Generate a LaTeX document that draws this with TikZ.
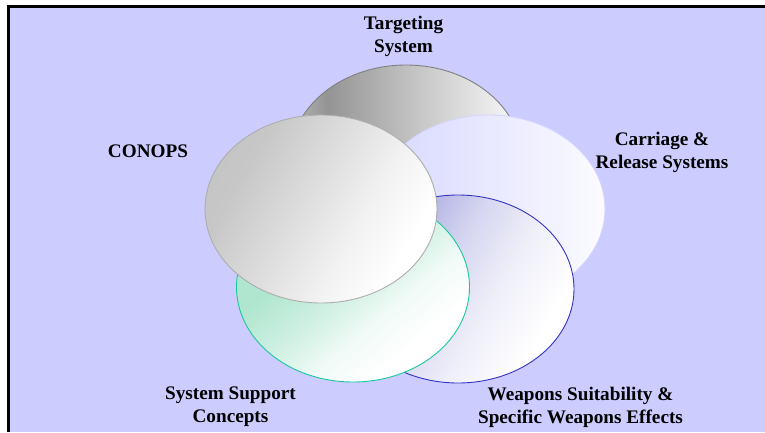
\documentclass[tikz,border=0pt]{standalone}
\usepackage{fontspec}
\setmainfont{Liberation Serif}
\definecolor{bgl}{HTML}{CCCCFF}
\definecolor{wpnc}{HTML}{A2A2DE}
\definecolor{supc}{HTML}{B0E6D0}
\definecolor{supline}{HTML}{19C8A0}
\definecolor{wpnline}{HTML}{3333C4}
\pgfdeclarehorizontalshading{tgtshade}{100bp}{color(0bp)=(black!28); color(25bp)=(black!28); color(33bp)=(black!42); color(55bp)=(black!20); color(75bp)=(black!2); color(100bp)=(black!2)}
\pgfdeclarehorizontalshading{carshade}{100bp}{color(0bp)=(bgl!80!white); color(25bp)=(bgl!80!white); color(75bp)=(bgl!8!white); color(100bp)=(bgl!8!white)}
\pgfdeclarehorizontalshading{wpnshade}{100bp}{color(0bp)=(wpnc); color(28bp)=(wpnc); color(45bp)=(wpnc!45!white); color(58bp)=(wpnc!18!white); color(72bp)=(white); color(100bp)=(white)}
\pgfdeclarehorizontalshading{supshade}{100bp}{color(0bp)=(supc); color(38bp)=(supc); color(50bp)=(supc!60!white); color(60bp)=(supc!18!white); color(70bp)=(white); color(100bp)=(white)}
\pgfdeclarehorizontalshading{conshade}{100bp}{color(0bp)=(black!26); color(30bp)=(black!22); color(46bp)=(black!13); color(60bp)=(black!5); color(72bp)=(white); color(100bp)=(white)}
\tikzset{
  lbl/.style={font=\fontsize{19.2}{23}\selectfont\bfseries, align=center, anchor=base, inner sep=0pt},
  disc/.style={line width=0.9pt}
}
\begin{document}
\begin{tikzpicture}[x=1pt,y=-1pt]
\useasboundingbox (0,0) rectangle (765,432);
\fill[bgl] (7,5) rectangle (765,432);
\draw[line width=3pt] (8.5,432) -- (8.5,6.5) -- (765,6.5);
% ellipses, back to front
\path[disc, draw=black!50, shading=tgtshade] (406,159) ellipse [x radius=116pt, y radius=94pt];
\path[disc, draw=bgl!85!white, shading=carshade] (489,209) ellipse [x radius=116pt, y radius=94pt];
\path[disc, draw=wpnline, shading=wpnshade, shading angle=-30] (458,289) ellipse [x radius=116pt, y radius=94pt];
\path[disc, draw=supline, shading=supshade, shading angle=-50] (353,287) ellipse [x radius=116.5pt, y radius=95pt];
\path[disc, draw=black!32, shading=conshade, shading angle=-30] (321,209) ellipse [x radius=116pt, y radius=94pt];
% labels (anchor base = baseline of last line)
\node[lbl] (tgt) at (403.5,52) {Targeting\\System};
\node[lbl] (con) at (148,157) {CONOPS};
\node[lbl] (car) at (662,168) {Carriage \&\\Release Systems};
\node[lbl] (sup) at (230.5,422) {System Support\\Concepts};
\node[lbl] (wpn) at (580.5,423) {Weapons Suitability \&\\Specific Weapons Effects};
\end{tikzpicture}
\end{document}
